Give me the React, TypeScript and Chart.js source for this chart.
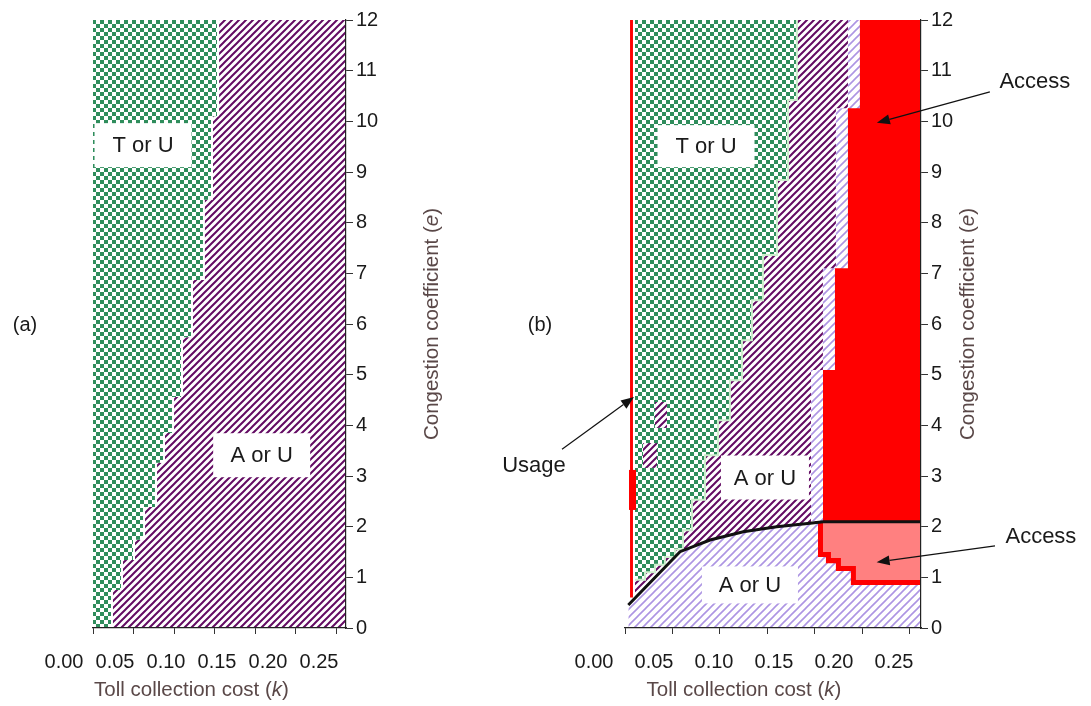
import React, { useEffect, useRef } from 'react';
import { Chart, registerables } from 'chart.js';

Chart.register(...registerables);

const FONT = "'Liberation Sans', Arial, Helvetica, sans-serif";

// ---------- axes ----------
const K_MAX = 0.312;
const E_MAX = 12;
const K_TICK_MARKS = [0, 0.05, 0.1, 0.15, 0.2, 0.25, 0.3];
const K_TICK_LABELS = [0, 0.05, 0.1, 0.15, 0.2, 0.25];
const E_TICKS = [0, 1, 2, 3, 4, 5, 6, 7, 8, 9, 10, 11, 12];

// ---------- panel (a) ----------
// boundary of the "T or U" region (region above/left of this staircase)
const A_TU_K = [0, 0.0222, 0.0222, 0.0345, 0.0345, 0.0493, 0.0493, 0.0617, 0.0617, 0.0764, 0.0764, 0.0863, 0.0863, 0.0974, 0.0974, 0.1085, 0.1085, 0.1208, 0.1208, 0.1356, 0.1356, 0.1455, 0.1455, 0.153, 0.153];
const A_TU_E = [0, 0, 0.75, 0.75, 1.34, 1.34, 1.74, 1.74, 2.39, 2.39, 3.26, 3.26, 3.85, 3.85, 4.56, 4.56, 5.74, 5.74, 6.87, 6.87, 8.45, 8.45, 10.1, 10.1, 12];
// boundary of the "A or U" region (region below/right of this staircase)
const A_AU_K = [0.0245, 0.0245, 0.037, 0.037, 0.0518, 0.0518, 0.0642, 0.0642, 0.079, 0.079, 0.0888, 0.0888, 0.1, 0.1, 0.111, 0.111, 0.1233, 0.1233, 0.138, 0.138, 0.148, 0.148, 0.1555, 0.1555, K_MAX];
const A_AU_E = [0, 0.75, 0.75, 1.34, 1.34, 1.74, 1.74, 2.39, 2.39, 3.26, 3.26, 3.85, 3.85, 4.56, 4.56, 5.74, 5.74, 6.87, 6.87, 8.45, 8.45, 10.1, 10.1, 12, 12];

// ---------- panel (b) ----------
// black threshold curve
const B_CURVE_K = [0.0035, 0.058, 0.0896, 0.1247, 0.1599, 0.195, 0.209, K_MAX];
const B_CURVE_E = [0.454, 1.506, 1.737, 1.9, 2.0, 2.066, 2.098, 2.098];
// lower edge of the upper "A or U" region
const B_UPPER_K = [0.0105, 0.058, 0.0896, 0.1247, 0.1599, 0.195, 0.209, K_MAX];
const B_UPPER_E = [0.59, 1.506, 1.737, 1.9, 2.0, 2.066, 2.098, 2.098];
// "T or U" region boundary
const B_TU_K = [0.0105, 0.0211, 0.0211, 0.0316, 0.0316, 0.0421, 0.0421, 0.0527, 0.0527, 0.0611, 0.0611, 0.0706, 0.0706, 0.0843, 0.0843, 0.098, 0.098, 0.1106, 0.1106, 0.1233, 0.1233, 0.1338, 0.1338, 0.1454, 0.1454, 0.1602, 0.1602, 0.1718, 0.1718, 0.1812, 0.1812];
const B_TU_E = [0.95, 0.95, 1.1, 1.1, 1.25, 1.25, 1.4, 1.4, 1.55, 1.55, 1.93, 1.93, 2.53, 2.53, 3.41, 3.41, 4.1, 4.1, 4.89, 4.89, 5.68, 5.68, 6.47, 6.47, 7.36, 7.36, 8.84, 8.84, 10.42, 10.42, 12];
// "Access" (red) region, upper boundary staircase, filled down to the curve level
const B_ACCESS_BASE = 2.11;
const B_ACCESS_K = [0.2086, 0.2086, 0.2213, 0.2213, 0.235, 0.235, 0.2476, 0.2476, K_MAX];
const B_ACCESS_E = [2.11, 5.09, 5.09, 7.1, 7.1, 10.26, 10.26, 12, 12];
// light hatched margin next to the access region
const B_MARGIN_K = [0.196, 0.196, 0.2086, 0.2086, 0.2223, 0.2223, 0.235, 0.235, K_MAX];
const B_MARGIN_E = [2.1, 5.09, 5.09, 7.1, 7.1, 10.26, 10.26, 12, 12];
// lower "Access" region (outer red rim and inner pink)
const B_RIM_K = [0.2034, 0.2034, 0.2118, 0.2118, 0.2223, 0.2223, 0.2381, 0.2381, K_MAX];
const B_RIM_E = [2.11, 1.4, 1.4, 1.28, 1.28, 1.125, 1.125, 0.85, 0.85];
const B_PINK_K = [0.2086, 0.2086, 0.2171, 0.2171, 0.2276, 0.2276, 0.2434, 0.2434, K_MAX];
const B_PINK_E = [2.11, 1.5, 1.5, 1.38, 1.38, 1.224, 1.224, 0.947, 0.947];
// "Usage" strip
const B_USAGE_K = [0.0053, 0.0084];
const B_USAGE_E = [0.6, 0.6];
const B_USAGE2_K = [0.0042, 0.0116];
const B_USAGE2_E = [2.33, 2.33];
const B_USAGE2_TOP = 3.12;
// small "A or U" islands inside the "T or U" region
const B_ISLE1_K = [0.0316, 0.0443];
const B_ISLE1_E = [3.95, 3.95];
const B_ISLE1_TOP = 4.46;
const B_ISLE2_K = [0.019, 0.0337];
const B_ISLE2_E = [3.16, 3.16];
const B_ISLE2_TOP = 3.65;

const zip = (ks: number[], es: number[]) => ks.map((k, i) => ({ x: k, y: es[i] }));

// ---------- patterns ----------
function checker(color: string, cell: number) {
  const c = document.createElement('canvas');
  c.width = cell * 2;
  c.height = cell * 2;
  const g = c.getContext('2d')!;
  g.fillStyle = '#ffffff';
  g.fillRect(0, 0, cell * 2, cell * 2);
  g.fillStyle = color;
  g.fillRect(0, 0, cell, cell);
  g.fillRect(cell, cell, cell, cell);
  return g.createPattern(c, 'repeat')!;
}

function stripes(color: string, size: number, width: number) {
  const c = document.createElement('canvas');
  c.width = size;
  c.height = size;
  const g = c.getContext('2d')!;
  g.fillStyle = '#ffffff';
  g.fillRect(0, 0, size, size);
  g.strokeStyle = color;
  g.lineWidth = width;
  g.beginPath();
  for (const o of [-size, 0, size]) {
    g.moveTo(o - 1, size + 1);
    g.lineTo(o + size + 1, -1);
  }
  g.stroke();
  return g.createPattern(c, 'repeat')!;
}

function makePatterns() {
  return {
    green: checker('#2f8d5c', 4),
    purple: stripes('#630b63', 7, 2.0),
    lilac: stripes('#ad95e3', 8, 1.6),
  };
}
type Pats = ReturnType<typeof makePatterns>;

function region(data: any[], bg: any, fill: any, order: number, border?: { color: string; width: number }) {
  return {
    data,
    backgroundColor: bg,
    borderColor: border ? border.color : 'rgba(0,0,0,0)',
    borderWidth: border ? border.width : 0,
    fill,
    order,
    pointRadius: 0,
    pointHoverRadius: 0,
    tension: 0,
  };
}

const RED = '#ff0000';
const PINK = '#ff8080';

function datasetsA(p: Pats) {
  return [
    region(zip(A_TU_K, A_TU_E), p.green, 'end', 1),
    region(zip(A_AU_K, A_AU_E), p.purple, 'start', 2),
  ];
}

function datasetsB(p: Pats) {
  return [
    region(zip(B_CURVE_K, B_CURVE_E), 'rgba(0,0,0,0)', false, 0, { color: '#111111', width: 3 }),
    region(zip(B_USAGE2_K, B_USAGE2_E), RED, { value: B_USAGE2_TOP }, 1),
    region(zip(B_USAGE_K, B_USAGE_E), RED, 'end', 2),
    region(zip(B_PINK_K, B_PINK_E), PINK, { value: B_ACCESS_BASE }, 3),
    region(zip(B_RIM_K, B_RIM_E), RED, { value: B_ACCESS_BASE }, 4),
    region(zip(B_ACCESS_K, B_ACCESS_E), RED, { value: B_ACCESS_BASE }, 5),
    region(zip(B_MARGIN_K, B_MARGIN_E), p.lilac, { value: B_ACCESS_BASE }, 6),
    region(zip(B_ISLE1_K, B_ISLE1_E), p.purple, { value: B_ISLE1_TOP }, 7),
    region(zip(B_ISLE2_K, B_ISLE2_E), p.purple, { value: B_ISLE2_TOP }, 8),
    region(zip(B_TU_K, B_TU_E), p.green, 'end', 9, { color: '#cdeecd', width: 2 }),
    region(zip(B_UPPER_K, B_UPPER_E), p.purple, 'end', 10),
    region(zip(B_CURVE_K, B_CURVE_E), p.lilac, 'start', 11),
  ];
}

// ---------- panel layout / annotations ----------
type Box = { text: string; k: number; e: number; w: number; h: number };
type Note = { text: string; k: number; e: number };
type Arrow = { from: [number, number]; to: [number, number] };
type PanelCfg = {
  left: number;
  width: number;
  padding: { left: number; top: number; right: number; bottom: number };
  labelMin: number;
  labelMax: number;
  yTitleOffset: number;
  letter: Note;
  boxes: Box[];
  notes: Note[];
  arrows: Arrow[];
  datasets: (p: Pats) => any[];
};

const PANEL_A: PanelCfg = {
  left: 0,
  width: 470,
  padding: { left: 93, top: 20, right: 84, bottom: 20 },
  labelMin: 0.02843,
  labelMax: 0.27647,
  yTitleOffset: 86,
  letter: { text: '(a)', k: -0.0838, e: 5.98 },
  boxes: [
    { text: 'T or U', k: 0.0617, e: 9.53, w: 97, h: 44 },
    { text: 'A or U', k: 0.208, e: 3.41, w: 97, h: 44 },
  ],
  notes: [],
  arrows: [],
  datasets: datasetsA,
};

const PANEL_B: PanelCfg = {
  left: 470,
  width: 621,
  padding: { left: 155, top: 20, right: 130, bottom: 20 },
  labelMin: 0.02583,
  labelMax: 0.2725,
  yTitleOffset: 47,
  letter: { text: '(b)', k: -0.0896, e: 5.98 },
  boxes: [
    { text: 'T or U', k: 0.0854, e: 9.51, w: 97, h: 42 },
    { text: 'A or U', k: 0.1475, e: 2.97, w: 88, h: 44 },
    { text: 'A or U', k: 0.1317, e: 0.85, w: 96, h: 37 },
  ],
  notes: [
    { text: 'Access', k: 0.432, e: 10.78 },
    { text: 'Access', k: 0.4384, e: 1.796 },
    { text: 'Usage', k: -0.0959, e: 3.2 },
  ],
  arrows: [
    { from: [0.3846, 10.58], to: [0.2655, 9.97] },
    { from: [0.39, 1.62], to: [0.2652, 1.3] },
    { from: [-0.0664, 3.53], to: [0.0095, 4.56] },
  ],
  datasets: datasetsB,
};

const TITLE_COLOR = '#5a4848';
const TEXT_COLOR = '#1a1a1a';

function drawRich(ctx: CanvasRenderingContext2D, parts: { t: string; i?: boolean }[], x: number, y: number, size: number, color: string) {
  const fonts = parts.map((p) => `${p.i ? 'italic ' : ''}${size}px ${FONT}`);
  let total = 0;
  const widths = parts.map((p, idx) => {
    ctx.font = fonts[idx];
    const w = ctx.measureText(p.t).width;
    total += w;
    return w;
  });
  let cx = x - total / 2;
  ctx.textAlign = 'left';
  ctx.textBaseline = 'middle';
  ctx.fillStyle = color;
  parts.forEach((p, idx) => {
    ctx.font = fonts[idx];
    ctx.fillText(p.t, cx, y);
    cx += widths[idx];
  });
}

function drawArrow(ctx: CanvasRenderingContext2D, x0: number, y0: number, x1: number, y1: number) {
  const ang = Math.atan2(y1 - y0, x1 - x0);
  const L = 13;
  const W = 5;
  const bx = x1 - L * Math.cos(ang);
  const by = y1 - L * Math.sin(ang);
  ctx.strokeStyle = '#111';
  ctx.lineWidth = 1.2;
  ctx.beginPath();
  ctx.moveTo(x0, y0);
  ctx.lineTo(bx, by);
  ctx.stroke();
  ctx.fillStyle = '#111';
  ctx.beginPath();
  ctx.moveTo(x1, y1);
  ctx.lineTo(bx + W * Math.sin(ang), by - W * Math.cos(ang));
  ctx.lineTo(bx - W * Math.sin(ang), by + W * Math.cos(ang));
  ctx.closePath();
  ctx.fill();
}

function annotPlugin(cfg: PanelCfg) {
  return {
    id: 'annot',
    afterDraw(chart: any) {
      const { ctx, chartArea } = chart;
      const xs = chart.scales.x;
      const ys = chart.scales.y;
      const xl = chart.scales.xl;
      const px = (k: number) => xs.getPixelForValue(k);
      const py = (e: number) => ys.getPixelForValue(e);
      ctx.save();
      // label boxes
      for (const b of cfg.boxes) {
        const cx = px(b.k);
        const cy = py(b.e);
        ctx.fillStyle = '#ffffff';
        ctx.fillRect(cx - b.w / 2, cy - b.h / 2, b.w, b.h);
        ctx.font = `22px ${FONT}`;
        ctx.fillStyle = TEXT_COLOR;
        ctx.textAlign = 'center';
        ctx.textBaseline = 'middle';
        ctx.fillText(b.text, cx, cy + 1);
      }
      // arrows
      for (const a of cfg.arrows) {
        drawArrow(ctx, px(a.from[0]), py(a.from[1]), px(a.to[0]), py(a.to[1]));
      }
      // free notes
      for (const n of cfg.notes) {
        ctx.font = `22px ${FONT}`;
        ctx.fillStyle = TEXT_COLOR;
        ctx.textAlign = 'center';
        ctx.textBaseline = 'middle';
        ctx.fillText(n.text, px(n.k), py(n.e));
      }
      // panel letter
      ctx.font = `20px ${FONT}`;
      ctx.fillStyle = TEXT_COLOR;
      ctx.textAlign = 'center';
      ctx.textBaseline = 'middle';
      ctx.fillText(cfg.letter.text, px(cfg.letter.k), py(cfg.letter.e));
      // x title
      drawRich(ctx, [{ t: 'Toll collection cost (' }, { t: 'k', i: true }, { t: ')' }], xl.getPixelForValue(0.125), chartArea.bottom + 62, 20.5, TITLE_COLOR);
      // y title (rotated, reading upwards)
      ctx.save();
      ctx.translate(chartArea.right + cfg.yTitleOffset, (chartArea.top + chartArea.bottom) / 2);
      ctx.rotate(-Math.PI / 2);
      drawRich(ctx, [{ t: 'Congestion coefficient (' }, { t: 'e', i: true }, { t: ')' }], 0, 0, 20.5, TITLE_COLOR);
      ctx.restore();
      ctx.restore();
    },
  };
}

function Panel({ cfg }: { cfg: PanelCfg }) {
  const ref = useRef<HTMLCanvasElement>(null);
  useEffect(() => {
    const canvas = ref.current;
    if (!canvas) return;
    const pats = makePatterns();
    const tickFont = { family: FONT, size: 20 };
    const chart = new Chart(canvas, {
      type: 'line',
      data: { datasets: cfg.datasets(pats) },
      options: {
        responsive: false,
        animation: false,
        events: [],
        layout: { padding: cfg.padding },
        plugins: {
          legend: { display: false },
          tooltip: { enabled: false },
        },
        scales: {
          x: {
            type: 'linear',
            position: 'bottom',
            min: 0,
            max: K_MAX,
            weight: 0,
            afterBuildTicks: (s: any) => {
              s.ticks = K_TICK_MARKS.map((v) => ({ value: v }));
            },
            afterFit: (s: any) => {
              s.height = 8;
              s.paddingLeft = 0;
              s.paddingRight = 0;
            },
            grid: { drawOnChartArea: false, drawTicks: true, tickLength: 6, color: '#333333', z: 1 },
            border: { display: true, color: '#222222', width: 1.2, z: 1 },
            ticks: { display: false },
          },
          xl: {
            type: 'linear',
            position: 'bottom',
            axis: 'x',
            min: cfg.labelMin,
            max: cfg.labelMax,
            weight: 1,
            afterBuildTicks: (s: any) => {
              s.ticks = K_TICK_LABELS.map((v) => ({ value: v }));
            },
            afterFit: (s: any) => {
              s.height = 50;
              s.paddingLeft = 0;
              s.paddingRight = 0;
            },
            grid: { display: false, drawTicks: false },
            border: { display: false },
            ticks: {
              font: tickFont,
              color: TEXT_COLOR,
              padding: 14,
              autoSkip: false,
              maxRotation: 0,
              minRotation: 0,
              callback: (v: any) => Number(v).toFixed(2),
            },
          },
          y: {
            type: 'linear',
            position: 'right',
            min: 0,
            max: E_MAX,
            afterBuildTicks: (s: any) => {
              s.ticks = E_TICKS.map((v) => ({ value: v }));
            },
            afterFit: (s: any) => {
              s.width = 40;
            },
            grid: { drawOnChartArea: false, drawTicks: true, tickLength: 7, color: '#333333', z: 1 },
            border: { display: true, color: '#222222', width: 1.2, z: 1 },
            ticks: { font: tickFont, color: TEXT_COLOR, padding: 3 },
          },
        },
      } as any,
      plugins: [annotPlugin(cfg)],
    });
    return () => chart.destroy();
  }, [cfg]);
  return (
    <canvas
      ref={ref}
      width={cfg.width}
      height={706}
      style={{ position: 'absolute', left: cfg.left, top: 0, width: cfg.width, height: 706 }}
    />
  );
}

export default function App() {
  return (
    <div style={{ position: 'absolute', left: 0, top: 0, width: 1091, height: 706, background: '#ffffff' }}>
      <Panel cfg={PANEL_A} />
      <Panel cfg={PANEL_B} />
    </div>
  );
}
